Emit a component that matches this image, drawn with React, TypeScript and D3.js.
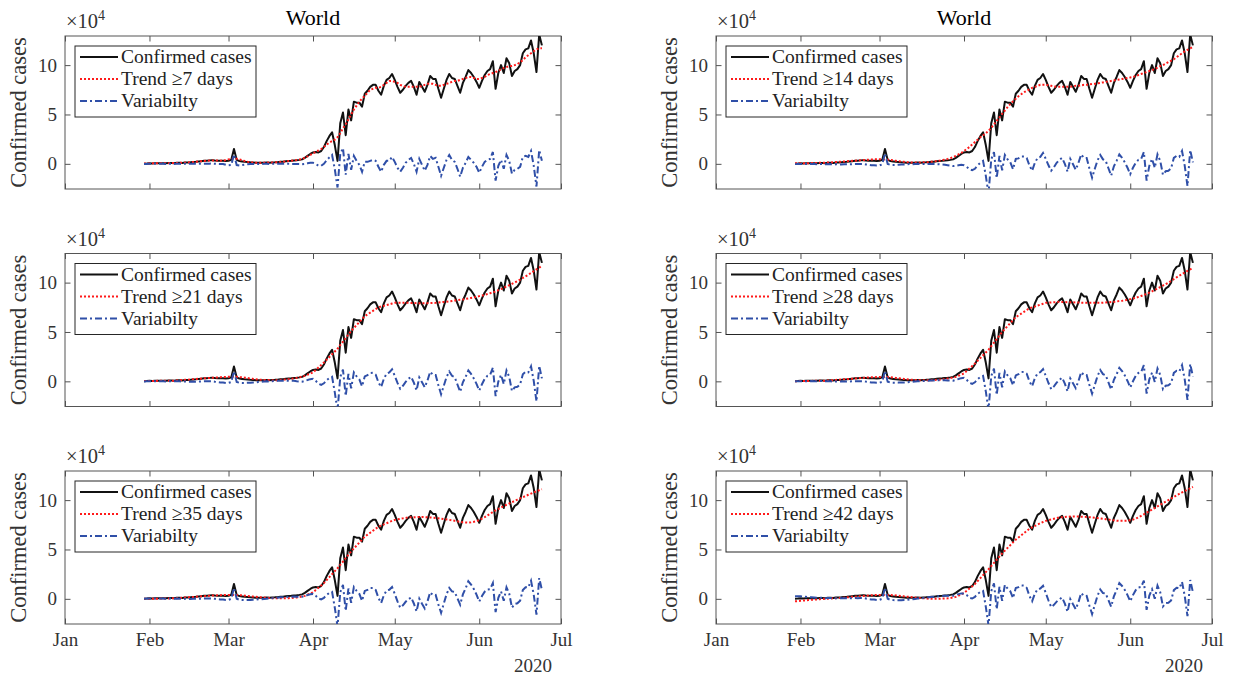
import React, { useRef, useEffect } from 'react'
import * as d3 from 'd3'

// daily confirmed cases, in units of 10^4, first value is 30 Jan 2020
const startDate = new Date(2020, 0, 30)

const cases = [
  0.02, 0.03, 0.05, 0.04, 0.06, 0.05, 0.07, 0.06, 0.05, 0.08,
  0.09, 0.07, 0.10, 0.11, 0.09, 0.13, 0.14, 0.16, 0.19, 0.21,
  0.24, 0.27, 0.30, 0.32, 0.35, 0.37, 0.34, 0.32, 0.30, 0.31,
  0.28, 0.30, 0.40, 1.50, 0.40, 0.28, 0.24, 0.20, 0.18, 0.15,
  0.13, 0.11, 0.12, 0.10, 0.12, 0.13, 0.12, 0.14, 0.15, 0.17,
  0.20, 0.22, 0.25, 0.28, 0.30, 0.33, 0.36, 0.40, 0.45, 0.60,
  0.80, 1.00, 1.15, 1.20, 1.15, 1.30, 1.70, 2.30, 2.80, 3.20,
  1.90, 0.30, 4.10, 5.20, 2.90, 5.50, 4.40, 6.30, 6.20, 6.20,
  5.80, 7.10, 7.40, 7.80, 8.00, 8.00, 7.40, 7.00, 7.90, 8.50,
  8.70, 9.10, 8.50, 7.80, 7.20, 7.50, 7.90, 8.20, 8.40, 7.80,
  7.00, 8.30, 7.80, 7.30, 8.00, 8.90, 8.60, 8.60, 7.60, 6.70,
  7.60, 8.50, 9.10, 8.70, 8.60, 7.90, 7.20, 8.20, 8.80, 9.50,
  9.20, 8.80, 8.30, 7.70, 8.40, 9.00, 9.40, 9.60, 10.40, 7.60,
  9.20, 10.00, 9.20, 10.70, 10.20, 8.90, 9.40, 9.60, 10.00, 11.20,
  11.60, 11.70, 12.50, 11.20, 9.30, 13.10, 12.00,
]

const trend7 = [
  0.03, 0.04, 0.04, 0.05, 0.05, 0.06, 0.06, 0.06, 0.07, 0.07,
  0.08, 0.09, 0.09, 0.10, 0.11, 0.12, 0.14, 0.16, 0.19, 0.21,
  0.24, 0.27, 0.29, 0.31, 0.33, 0.34, 0.34, 0.33, 0.32, 0.33,
  0.38, 0.45, 0.52, 0.55, 0.52, 0.45, 0.36, 0.28, 0.22, 0.17,
  0.14, 0.12, 0.12, 0.12, 0.12, 0.13, 0.13, 0.14, 0.15, 0.17,
  0.19, 0.22, 0.25, 0.28, 0.31, 0.34, 0.38, 0.43, 0.50, 0.62,
  0.75, 0.90, 1.05, 1.20, 1.35, 1.50, 1.70, 1.95, 2.15, 2.30,
  2.45, 2.70, 3.10, 3.60, 4.00, 4.50, 5.00, 5.50, 5.90, 6.30,
  6.60, 6.90, 7.20, 7.50, 7.60, 7.70, 7.70, 7.80, 8.00, 8.20,
  8.40, 8.40, 8.30, 8.20, 8.00, 7.90, 7.80, 7.80, 7.80, 7.80,
  7.80, 7.80, 7.90, 8.00, 8.10, 8.10, 8.10, 8.00, 7.90, 7.90,
  8.00, 8.10, 8.20, 8.30, 8.40, 8.40, 8.50, 8.60, 8.70, 8.80,
  8.80, 8.70, 8.60, 8.60, 8.70, 8.80, 9.00, 9.10, 9.20, 9.30,
  9.40, 9.60, 9.70, 9.80, 9.90, 9.90, 10.00, 10.10, 10.30, 10.50,
  10.80, 11.00, 11.20, 11.40, 11.60, 11.70, 11.70,
]

const trend14 = [
  0.05, 0.05, 0.06, 0.06, 0.07, 0.07, 0.08, 0.08, 0.09, 0.10,
  0.11, 0.12, 0.13, 0.14, 0.16, 0.18, 0.20, 0.22, 0.24, 0.26,
  0.28, 0.30, 0.32, 0.34, 0.36, 0.38, 0.40, 0.42, 0.44, 0.45,
  0.46, 0.46, 0.45, 0.44, 0.42, 0.39, 0.35, 0.31, 0.27, 0.23,
  0.20, 0.17, 0.15, 0.14, 0.13, 0.13, 0.14, 0.15, 0.16, 0.18,
  0.21, 0.24, 0.28, 0.32, 0.37, 0.43, 0.50, 0.58, 0.68, 0.80,
  0.95, 1.10, 1.30, 1.50, 1.70, 1.95, 2.20, 2.45, 2.70, 2.90,
  3.10, 3.35, 3.65, 4.00, 4.35, 4.70, 5.05, 5.40, 5.75, 6.05,
  6.35, 6.60, 6.85, 7.05, 7.25, 7.40, 7.55, 7.70, 7.80, 7.90,
  8.00, 8.00, 8.00, 7.95, 7.90, 7.85, 7.80, 7.80, 7.80, 7.80,
  7.80, 7.80, 7.85, 7.90, 7.90, 7.95, 8.00, 8.00, 8.05, 8.10,
  8.10, 8.15, 8.20, 8.25, 8.30, 8.35, 8.40, 8.45, 8.50, 8.55,
  8.60, 8.65, 8.70, 8.75, 8.80, 8.90, 9.00, 9.10, 9.20, 9.30,
  9.40, 9.50, 9.60, 9.75, 9.90, 10.00, 10.15, 10.30, 10.45, 10.60,
  10.80, 11.00, 11.20, 11.40, 11.55, 11.70, 11.85,
]

const trend21 = [
  0.03, 0.03, 0.04, 0.04, 0.04, 0.05, 0.05, 0.05, 0.06, 0.06,
  0.07, 0.07, 0.09, 0.11, 0.13, 0.15, 0.17, 0.19, 0.21, 0.24,
  0.26, 0.28, 0.30, 0.32, 0.34, 0.36, 0.38, 0.40, 0.42, 0.44,
  0.45, 0.46, 0.47, 0.48, 0.46, 0.43, 0.40, 0.37, 0.33, 0.29,
  0.25, 0.22, 0.18, 0.15, 0.14, 0.13, 0.13, 0.12, 0.12, 0.12,
  0.14, 0.17, 0.19, 0.22, 0.25, 0.28, 0.35, 0.41, 0.48, 0.55,
  0.67, 0.78, 0.90, 1.15, 1.40, 1.65, 1.90, 2.18, 2.46, 2.74,
  3.02, 3.30, 3.66, 4.02, 4.38, 4.74, 5.10, 5.40, 5.70, 6.00,
  6.30, 6.60, 6.78, 6.96, 7.14, 7.32, 7.50, 7.58, 7.65, 7.73,
  7.80, 7.88, 7.95, 7.95, 7.95, 7.95, 7.95, 7.95, 7.94, 7.93,
  7.92, 7.91, 7.90, 7.91, 7.92, 7.93, 7.94, 7.95, 7.98, 8.01,
  8.04, 8.07, 8.10, 8.14, 8.18, 8.22, 8.26, 8.30, 8.35, 8.40,
  8.45, 8.50, 8.56, 8.63, 8.69, 8.75, 8.84, 8.93, 9.01, 9.10,
  9.23, 9.35, 9.48, 9.60, 9.74, 9.88, 10.01, 10.15, 10.31, 10.48,
  10.64, 10.80, 10.98, 11.16, 11.34, 11.52, 11.70,
]

const trend28 = [
  0.02, 0.02, 0.03, 0.03, 0.04, 0.04, 0.04, 0.05, 0.05, 0.06,
  0.06, 0.06, 0.08, 0.10, 0.12, 0.14, 0.16, 0.18, 0.21, 0.23,
  0.25, 0.27, 0.29, 0.31, 0.33, 0.35, 0.37, 0.39, 0.41, 0.42,
  0.43, 0.44, 0.45, 0.45, 0.43, 0.41, 0.38, 0.35, 0.31, 0.28,
  0.24, 0.21, 0.18, 0.15, 0.14, 0.13, 0.12, 0.11, 0.10, 0.10,
  0.11, 0.13, 0.15, 0.17, 0.20, 0.22, 0.28, 0.33, 0.39, 0.45,
  0.57, 0.68, 0.80, 1.05, 1.30, 1.55, 1.80, 2.08, 2.36, 2.64,
  2.92, 3.20, 3.56, 3.92, 4.28, 4.64, 5.00, 5.30, 5.60, 5.90,
  6.20, 6.50, 6.68, 6.86, 7.04, 7.22, 7.40, 7.49, 7.58, 7.68,
  7.77, 7.86, 7.95, 7.97, 7.99, 8.01, 8.03, 8.05, 8.04, 8.03,
  8.02, 8.01, 8.00, 7.99, 7.98, 7.97, 7.96, 7.95, 7.95, 7.95,
  7.95, 7.95, 7.95, 7.97, 7.99, 8.01, 8.03, 8.05, 8.09, 8.13,
  8.16, 8.20, 8.26, 8.33, 8.39, 8.45, 8.55, 8.65, 8.75, 8.85,
  8.99, 9.12, 9.26, 9.40, 9.55, 9.70, 9.85, 10.00, 10.18, 10.35,
  10.53, 10.70, 10.86, 11.02, 11.18, 11.34, 11.50,
]

const trend35 = [
  0.00, 0.00, 0.01, 0.01, 0.02, 0.02, 0.03, 0.03, 0.04, 0.04,
  0.05, 0.05, 0.07, 0.09, 0.11, 0.13, 0.15, 0.17, 0.19, 0.21,
  0.23, 0.25, 0.27, 0.29, 0.31, 0.33, 0.34, 0.36, 0.37, 0.38,
  0.39, 0.40, 0.40, 0.40, 0.39, 0.37, 0.35, 0.32, 0.29, 0.26,
  0.23, 0.20, 0.17, 0.15, 0.13, 0.11, 0.09, 0.07, 0.06, 0.05,
  0.05, 0.05, 0.06, 0.07, 0.08, 0.10, 0.14, 0.19, 0.24, 0.30,
  0.42, 0.53, 0.65, 0.89, 1.12, 1.36, 1.60, 1.90, 2.20, 2.50,
  2.80, 3.10, 3.44, 3.78, 4.12, 4.46, 4.80, 5.10, 5.40, 5.70,
  6.00, 6.30, 6.50, 6.70, 6.90, 7.10, 7.30, 7.42, 7.54, 7.66,
  7.78, 7.90, 8.00, 8.05, 8.10, 8.15, 8.20, 8.25, 8.26, 8.27,
  8.28, 8.29, 8.30, 8.28, 8.26, 8.24, 8.22, 8.20, 8.16, 8.12,
  8.08, 8.04, 8.00, 7.95, 7.90, 7.85, 7.80, 7.75, 7.74, 7.72,
  7.75, 7.80, 7.88, 7.98, 8.12, 8.28, 8.45, 8.62, 8.80, 8.95,
  9.10, 9.25, 9.40, 9.53, 9.66, 9.79, 9.92, 10.05, 10.18, 10.30,
  10.42, 10.54, 10.66, 10.78, 10.90, 11.00, 11.10,
]

const trend42 = [
  -0.25, -0.23, -0.20, -0.18, -0.15, -0.12, -0.10, -0.08, -0.06, -0.04,
  -0.02, 0.00, 0.02, 0.03, 0.05, 0.07, 0.08, 0.10, 0.12, 0.15,
  0.17, 0.20, 0.22, 0.25, 0.27, 0.29, 0.31, 0.34, 0.36, 0.38,
  0.39, 0.40, 0.40, 0.40, 0.39, 0.38, 0.37, 0.35, 0.32, 0.29,
  0.25, 0.22, 0.19, 0.16, 0.13, 0.10, 0.08, 0.06, 0.04, 0.02,
  0.01, 0.00, 0.00, 0.01, 0.02, 0.03, 0.05, 0.09, 0.14, 0.20,
  0.32, 0.45, 0.60, 0.82, 1.05, 1.27, 1.50, 1.80, 2.10, 2.40,
  2.70, 3.00, 3.32, 3.64, 3.96, 4.28, 4.60, 4.88, 5.16, 5.44,
  5.72, 6.00, 6.22, 6.44, 6.66, 6.88, 7.10, 7.24, 7.38, 7.52,
  7.66, 7.78, 7.90, 7.97, 8.04, 8.11, 8.18, 8.25, 8.27, 8.29,
  8.31, 8.33, 8.35, 8.34, 8.33, 8.32, 8.31, 8.30, 8.27, 8.24,
  8.21, 8.18, 8.15, 8.11, 8.07, 8.03, 7.99, 7.95, 7.92, 7.90,
  7.90, 7.90, 7.92, 7.95, 8.02, 8.12, 8.25, 8.40, 8.56, 8.72,
  8.88, 9.04, 9.20, 9.36, 9.52, 9.68, 9.84, 10.00, 10.16, 10.32,
  10.48, 10.63, 10.78, 10.92, 11.06, 11.20, 11.34,
]

const trendDays = [7, 14, 21, 28, 35, 42]
const trends = [trend7, trend14, trend21, trend28, trend35, trend42]
const yTicks = [0, 5, 10]

export default function App() {
  const svgRef = useRef(null)
  const width = 1235
  const height = 677
  const colX = [65, 716]
  const rowY = [36, 253.5, 471]
  const plotW = 496
  const plotH = 153
  const font = "'Liberation Serif', 'DejaVu Serif', serif"
  const axisColor = "#262626"

  useEffect(() => {
    draw()
  }, [])

  const draw = () => {
    const svg = d3.select(svgRef.current)
    svg.selectAll("*").remove()
    const dates = cases.map((_, i) => d3.timeDay.offset(startDate, i))

    trends.forEach((trend, k) => {
      const x0 = colX[k % 2]
      const row = Math.floor(k / 2)
      const y0 = rowY[row]
      const variab = cases.map((c, i) => c - trend[i])

      const xScale = d3.scaleTime()
        .domain([new Date(2020, 0, 1), new Date(2020, 6, 1)])
        .range([x0, x0 + plotW])
      const yScale = d3.scaleLinear()
        .domain([-2.55, 12.95])
        .range([y0 + plotH, y0])

      const clipId = `clip-${k}`
      svg.append("clipPath").attr("id", clipId)
        .append("rect")
        .attr("x", x0).attr("y", y0)
        .attr("width", plotW).attr("height", plotH)

      const g = svg.append("g")

      // axes with inward ticks on all four sides
      const months = d3.timeMonth.range(new Date(2020, 0, 1), new Date(2020, 6, 2))
      const styleAxis = ax => ax
        .call(a => a.select(".domain").remove())
        .call(a => a.selectAll(".tick line").attr("stroke", axisColor).attr("stroke-width", 0.8))
        .call(a => a.selectAll(".tick text")
          .attr("fill", "#333")
          .attr("font-family", font)
          .attr("font-size", 19))

      g.append("g")
        .attr("transform", `translate(${x0},0)`)
        .call(d3.axisLeft(yScale).tickValues(yTicks).tickSizeInner(-5.5).tickSizeOuter(0).tickPadding(8))
        .call(styleAxis)
      g.append("g")
        .attr("transform", `translate(${x0 + plotW},0)`)
        .call(d3.axisRight(yScale).tickValues(yTicks).tickSizeInner(-5.5).tickSizeOuter(0).tickFormat(() => ""))
        .call(styleAxis)
      g.append("g")
        .attr("transform", `translate(0,${y0})`)
        .call(d3.axisTop(xScale).tickValues(months).tickSizeInner(-5.5).tickSizeOuter(0).tickFormat(() => ""))
        .call(styleAxis)
      g.append("g")
        .attr("transform", `translate(0,${y0 + plotH})`)
        .call(d3.axisBottom(xScale).tickValues(months).tickSizeInner(-5.5).tickSizeOuter(0)
          .tickPadding(9)
          .tickFormat(d => row === 2 ? d3.timeFormat("%b")(d) : ""))
        .call(styleAxis)

      g.append("rect")
        .attr("x", x0).attr("y", y0)
        .attr("width", plotW).attr("height", plotH)
        .attr("fill", "none")
        .attr("stroke", "#555")
        .attr("stroke-width", 1)

      if (row === 2) {
        g.append("text")
          .attr("x", x0 + plotW - 28)
          .attr("y", y0 + plotH + 48)
          .attr("text-anchor", "middle")
          .attr("font-family", font)
          .attr("font-size", 19)
          .attr("fill", "#333")
          .text("2020")
      }

      // exponent label
      const ex = g.append("text")
        .attr("x", x0 + 1)
        .attr("y", y0 - 8)
        .attr("font-family", font)
        .attr("font-size", 20.5)
        .attr("fill", "#333")
      ex.append("tspan").text("\u00d710")
      ex.append("tspan").attr("dy", -8).attr("font-size", 14).text("4")

      if (row === 0) {
        g.append("text")
          .attr("x", x0 + plotW / 2)
          .attr("y", 25)
          .attr("text-anchor", "middle")
          .attr("font-family", font)
          .attr("font-size", 22)
          .attr("fill", "#000")
          .text("World")
      }

      g.append("text")
        .attr("transform", `translate(${x0 - 39},${y0 + plotH / 2}) rotate(-90)`)
        .attr("text-anchor", "middle")
        .attr("font-family", font)
        .attr("font-size", 22.5)
        .attr("fill", "#333")
        .text("Confirmed cases")

      const line = d3.line<number>()
        .x((_, i) => xScale(dates[i]))
        .y(d => yScale(d))

      const lines = g.append("g").attr("clip-path", `url(#${clipId})`)
      lines.append("path")
        .attr("d", line(cases))
        .attr("fill", "none")
        .attr("stroke", "#111")
        .attr("stroke-width", 2)
        .attr("stroke-linejoin", "round")
      lines.append("path")
        .attr("d", line(trend))
        .attr("fill", "none")
        .attr("stroke", "#ff1a1a")
        .attr("stroke-width", 2)
        .attr("stroke-dasharray", "2,2")
      lines.append("path")
        .attr("d", line(variab))
        .attr("fill", "none")
        .attr("stroke", "#2f4fa8")
        .attr("stroke-width", 2)
        .attr("stroke-dasharray", "7,3,2,3")

      // legend
      const legend = g.append("g").attr("transform", `translate(${x0 + 10},${y0 + 10})`)
      legend.append("rect")
        .attr("width", 181).attr("height", 71)
        .attr("fill", "white")
        .attr("stroke", axisColor)
        .attr("stroke-width", 1)
      const entries = [
        { label: "Confirmed cases", color: "#111", dash: null },
        { label: `Trend \u2265${trendDays[k]} days`, color: "#ff1a1a", dash: "2,2" },
        { label: "Variabilty", color: "#2f4fa8", dash: "7,3,2,3" },
      ]
      entries.forEach((e, i) => {
        const ly = 11 + i * 22
        legend.append("line")
          .attr("x1", 5).attr("x2", 43)
          .attr("y1", ly).attr("y2", ly)
          .attr("stroke", e.color)
          .attr("stroke-width", 2)
          .attr("stroke-dasharray", e.dash)
        legend.append("text")
          .attr("x", 46).attr("y", ly)
          .attr("dy", "0.33em")
          .attr("font-family", font)
          .attr("font-size", 19.5)
          .attr("fill", "#222")
          .text(e.label)
      })
    })
  }

  return (
    <svg
      ref={svgRef}
      width={width}
      height={height}
      style={{ position: 'absolute', left: 0, top: 0, background: 'white' }}
    ></svg>
  )
}
